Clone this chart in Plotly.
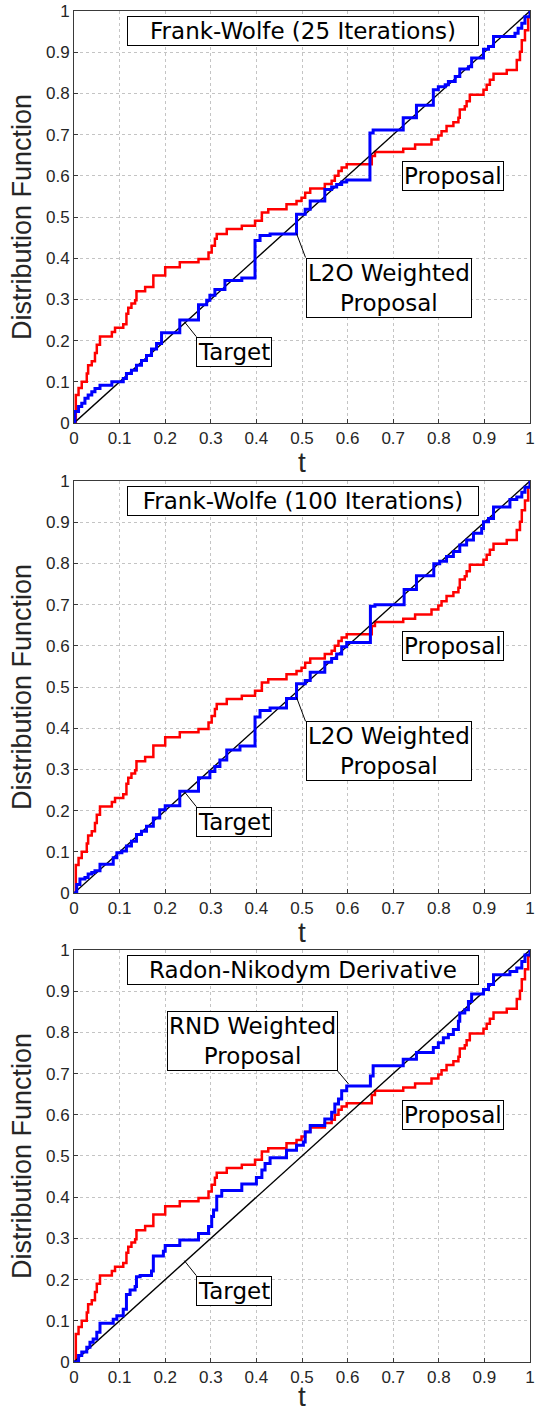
import plotly.graph_objects as go

# Empirical distribution functions: jump locations t and value after each jump
proposal_t = [0.000, 0.004, 0.010, 0.017, 0.028, 0.031, 0.039, 0.046, 0.050, 0.057,
              0.083, 0.090, 0.108, 0.115, 0.119, 0.126, 0.134, 0.137, 0.156, 0.174,
              0.200, 0.232, 0.273, 0.295, 0.302, 0.309, 0.313, 0.335, 0.368, 0.397,
              0.412, 0.426, 0.466, 0.488, 0.499, 0.507, 0.518, 0.550, 0.565, 0.572,
              0.580, 0.587, 0.598, 0.653, 0.660, 0.722, 0.748, 0.784, 0.799, 0.806,
              0.817, 0.832, 0.843, 0.846, 0.857, 0.861, 0.868, 0.898, 0.905, 0.912,
              0.920, 0.949, 0.971, 0.978, 0.982, 0.989, 0.996, 1.000]
proposal_F = [0.000, 0.068, 0.085, 0.100, 0.120, 0.140, 0.150, 0.170, 0.190, 0.210,
              0.221, 0.231, 0.240, 0.265, 0.280, 0.290, 0.298, 0.320, 0.330, 0.358,
              0.378, 0.390, 0.398, 0.414, 0.430, 0.447, 0.459, 0.471, 0.479, 0.491,
              0.511, 0.519, 0.531, 0.539, 0.547, 0.559, 0.569, 0.580, 0.588, 0.600,
              0.612, 0.620, 0.628, 0.648, 0.658, 0.666, 0.676, 0.688, 0.698, 0.708,
              0.721, 0.730, 0.741, 0.761, 0.769, 0.781, 0.797, 0.809, 0.821, 0.833,
              0.848, 0.857, 0.881, 0.901, 0.929, 0.953, 0.985, 1.000]

fw25_t = [0.000, 0.002, 0.010, 0.017, 0.024, 0.031, 0.039, 0.046, 0.057, 0.083,
          0.108, 0.115, 0.126, 0.137, 0.148, 0.159, 0.170, 0.181, 0.192, 0.232,
          0.273, 0.291, 0.298, 0.309, 0.331, 0.368, 0.397, 0.408, 0.430, 0.488,
          0.507, 0.518, 0.550, 0.565, 0.576, 0.587, 0.598, 0.649, 0.656, 0.722,
          0.751, 0.788, 0.799, 0.814, 0.821, 0.836, 0.846, 0.865, 0.872, 0.898,
          0.909, 0.920, 0.967, 0.974, 0.982, 0.989, 1.000]
fw25_F = [0.000, 0.028, 0.040, 0.048, 0.060, 0.068, 0.076, 0.084, 0.092, 0.100,
          0.108, 0.120, 0.128, 0.140, 0.152, 0.164, 0.180, 0.193, 0.219, 0.250,
          0.287, 0.298, 0.310, 0.324, 0.346, 0.352, 0.443, 0.455, 0.459, 0.507,
          0.519, 0.539, 0.567, 0.573, 0.579, 0.585, 0.590, 0.704, 0.711, 0.741,
          0.771, 0.809, 0.816, 0.821, 0.829, 0.841, 0.859, 0.865, 0.886, 0.907,
          0.914, 0.938, 0.946, 0.958, 0.970, 0.986, 1.000]

fw100_t = [0.000, 0.006, 0.013, 0.024, 0.031, 0.039, 0.046, 0.057, 0.086, 0.094,
           0.105, 0.115, 0.126, 0.137, 0.148, 0.159, 0.174, 0.188, 0.200, 0.232,
           0.273, 0.298, 0.309, 0.320, 0.335, 0.364, 0.397, 0.408, 0.430, 0.466,
           0.488, 0.507, 0.518, 0.550, 0.565, 0.576, 0.587, 0.598, 0.650, 0.660,
           0.724, 0.751, 0.789, 0.802, 0.817, 0.832, 0.846, 0.861, 0.876, 0.894,
           0.898, 0.909, 0.920, 0.956, 0.971, 0.982, 0.989, 1.000]
fw100_F = [0.000, 0.021, 0.034, 0.038, 0.046, 0.050, 0.054, 0.070, 0.086, 0.098,
           0.102, 0.114, 0.126, 0.142, 0.150, 0.162, 0.182, 0.202, 0.212, 0.247,
           0.280, 0.295, 0.307, 0.323, 0.347, 0.357, 0.427, 0.443, 0.449, 0.472,
           0.508, 0.516, 0.536, 0.560, 0.569, 0.580, 0.598, 0.608, 0.696, 0.700,
           0.737, 0.770, 0.799, 0.805, 0.817, 0.829, 0.845, 0.857, 0.873, 0.885,
           0.901, 0.909, 0.937, 0.955, 0.961, 0.973, 0.985, 1.000]

rnd_t = [0.000, 0.010, 0.017, 0.028, 0.035, 0.042, 0.050, 0.057, 0.086, 0.094,
         0.108, 0.115, 0.123, 0.134, 0.137, 0.145, 0.170, 0.174, 0.196, 0.200,
         0.232, 0.273, 0.295, 0.302, 0.306, 0.313, 0.324, 0.368, 0.400, 0.412,
         0.419, 0.430, 0.466, 0.488, 0.503, 0.507, 0.518, 0.550, 0.565, 0.572,
         0.580, 0.587, 0.598, 0.650, 0.656, 0.722, 0.751, 0.788, 0.799, 0.810,
         0.821, 0.832, 0.843, 0.846, 0.857, 0.865, 0.872, 0.898, 0.909, 0.920,
         0.956, 0.971, 0.982, 0.989, 1.000]
rnd_F = [0.000, 0.016, 0.024, 0.036, 0.048, 0.056, 0.072, 0.094, 0.104, 0.112,
         0.128, 0.164, 0.175, 0.183, 0.207, 0.210, 0.221, 0.257, 0.269, 0.283,
         0.296, 0.312, 0.329, 0.353, 0.369, 0.402, 0.416, 0.432, 0.448, 0.466,
         0.482, 0.496, 0.514, 0.526, 0.534, 0.558, 0.574, 0.590, 0.606, 0.626,
         0.638, 0.658, 0.670, 0.694, 0.719, 0.735, 0.751, 0.763, 0.775, 0.787,
         0.795, 0.807, 0.827, 0.847, 0.855, 0.875, 0.893, 0.904, 0.916, 0.940,
         0.948, 0.956, 0.972, 0.988, 1.000]

target_t = [0.0, 1.0]
target_F = [0.0, 1.0]

panel_titles = ["Frank-Wolfe (25 Iterations)", "Frank-Wolfe (100 Iterations)",
                "Radon-Nikodym Derivative"]
weighted_curves = [(fw25_t, fw25_F), (fw100_t, fw100_F), (rnd_t, rnd_F)]
weighted_labels = ["L2O Weighted<br>Proposal", "L2O Weighted<br>Proposal",
                   "RND Weighted<br>Proposal"]
tick_vals = [0, 0.1, 0.2, 0.3, 0.4, 0.5, 0.6, 0.7, 0.8, 0.9, 1]
tick_text = ["0", "0.1", "0.2", "0.3", "0.4", "0.5", "0.6", "0.7", "0.8", "0.9", "1"]
x_title = "t"
y_title = "Distribution Function"

WIDTH, HEIGHT = 535, 1414
MARGIN = dict(l=74, r=5, t=11, b=52)

# vertical placement of the three panels (paper fractions)
domains = [(0.6950, 1.0), (0.3471, 0.6521), (0.0, 0.3050)]
X_TITLE_GAP = 0.0289  # distance of the "t" label below each panel, paper units

RED = "#ff0000"
BLUE = "#0000ff"
AX_FONT = "Liberation Sans, Arial, sans-serif"
ANN_FONT = "DejaVu Sans, sans-serif"

fig = go.Figure()
annotations = []

for i in range(3):
    xa = "x" if i == 0 else f"x{i + 1}"
    ya = "y" if i == 0 else f"y{i + 1}"
    wt, wF = weighted_curves[i]
    fig.add_trace(go.Scatter(x=proposal_t, y=proposal_F, mode="lines", line_shape="hv",
                             line=dict(color=RED, width=2.5), xaxis=xa, yaxis=ya,
                             showlegend=False))
    fig.add_trace(go.Scatter(x=target_t, y=target_F, mode="lines",
                             line=dict(color="black", width=1.4), xaxis=xa, yaxis=ya,
                             showlegend=False))
    fig.add_trace(go.Scatter(x=wt, y=wF, mode="lines", line_shape="hv",
                             line=dict(color=BLUE, width=3), xaxis=xa, yaxis=ya,
                             showlegend=False))

    axis_common = dict(range=[0, 1], tickvals=tick_vals, ticktext=tick_text,
                       showgrid=True, gridcolor="#c4c4c4", griddash="dot", gridwidth=1,
                       showline=True, linecolor="#3a3a3a", linewidth=1, mirror=True,
                       ticks="inside", ticklen=4, tickcolor="#3a3a3a",
                       tickfont=dict(family=AX_FONT, size=17, color="#262626"),
                       zeroline=False, fixedrange=True, automargin=False)
    fig.layout[("xaxis" if i == 0 else f"xaxis{i + 1}")] = dict(
        axis_common, anchor=ya, domain=[0, 1])
    fig.layout[("yaxis" if i == 0 else f"yaxis{i + 1}")] = dict(
        axis_common, anchor=xa, domain=list(domains[i]),
        title=dict(text=y_title,
                   font=dict(family=AX_FONT, size=27, color="#262626"), standoff=6))

    # x-axis label below the panel; the lowest one sits on the bottom edge of the page
    if i < 2:
        t_pos = dict(y=domains[i][0] - X_TITLE_GAP, yanchor="middle")
    else:
        t_pos = dict(y=-MARGIN["b"] / (HEIGHT - MARGIN["t"] - MARGIN["b"]),
                     yanchor="bottom")
    annotations.append(dict(t_pos, text=x_title, xref="paper", yref="paper", x=0.5,
                            xanchor="center", showarrow=False,
                            font=dict(family=AX_FONT, size=28, color="#262626")))

    box = dict(font=dict(family=ANN_FONT, size=23, color="black"), bgcolor="white",
               bordercolor="black", borderwidth=1, borderpad=1,
               xref=xa, yref=ya, arrowcolor="black", arrowwidth=1, arrowhead=0)

    # panel heading
    annotations.append(dict(box, text=panel_titles[i], x=0.502, y=0.951, showarrow=False,
                            width=348, borderpad=1))
    # "Proposal" label
    annotations.append(dict(box, text="Proposal", x=0.70, y=0.658, showarrow=True,
                            ax=9, ay=9, xanchor="left", yanchor="top"))
    # "Target" label
    annotations.append(dict(box, text="Target", x=0.242, y=0.246, showarrow=True,
                            ax=12, ay=15, xanchor="left", yanchor="top"))
    # weighted proposal label
    if i < 2:
        annotations.append(dict(box, text=weighted_labels[i], x=0.488,
                                y=0.460 if i == 0 else 0.475, showarrow=True,
                                ax=9, ay=24, xanchor="left", yanchor="top"))
    else:
        annotations.append(dict(box, text=weighted_labels[i], x=0.602, y=0.675,
                                showarrow=True, ax=-11, ay=-13,
                                xanchor="right", yanchor="bottom"))

fig.update_layout(
    width=WIDTH, height=HEIGHT,
    margin=MARGIN,
    paper_bgcolor="white", plot_bgcolor="white",
    annotations=annotations,
    showlegend=False,
)

fig.write_html("out.html")
